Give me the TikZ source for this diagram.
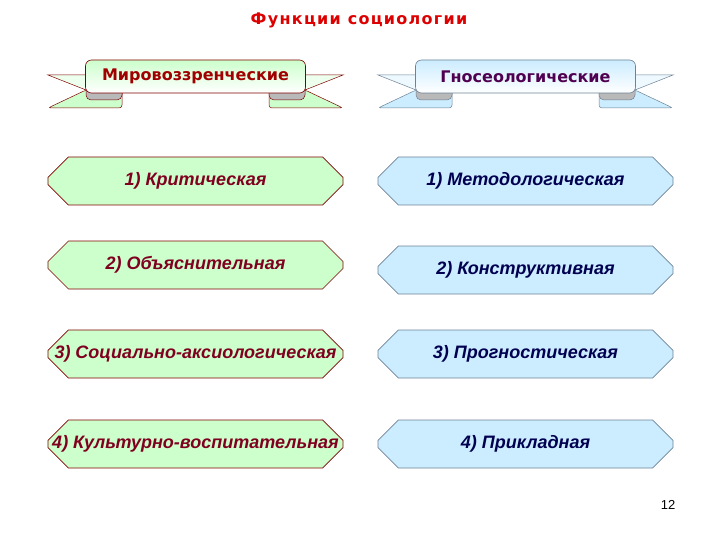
\documentclass[tikz,border=0pt]{standalone}
\usepackage{fontspec}
\setmainfont{Liberation Sans}
\newfontfamily\widefont{DejaVu Sans}
\usepackage{xcolor}
\usetikzlibrary{shapes.misc,positioning}

\definecolor{greenfill}{RGB}{204,255,204}
\definecolor{greenline}{RGB}{128,0,0}
\definecolor{greentext}{RGB}{128,0,32}
\definecolor{bluefill}{RGB}{204,236,255}
\definecolor{blueline}{RGB}{110,130,150}
\definecolor{bluetext}{RGB}{0,0,80}
\definecolor{titlered}{RGB}{220,0,0}
\definecolor{bannerred}{RGB}{160,0,0}
\definecolor{bannerpurple}{RGB}{80,0,80}

\begin{document}
\begin{tikzpicture}[
    x=1pt,
    y=-1pt,
    func/.style={
        chamfered rectangle,
        chamfered rectangle xsep=12pt,
        chamfered rectangle ysep=12pt,
        minimum width=295pt,
        minimum height=48pt,
        inner sep=0pt,
        line width=0.6pt,
        font=\fontsize{18}{21}\selectfont\bfseries\itshape,
        execute at begin node={\hbox to 270pt\bgroup\hss},
        execute at end node={\hss\egroup}
    },
    funcleft/.style={func, draw=greenline, fill=greenfill, text=greentext},
    funcright/.style={func, draw=blueline, fill=bluefill, text=bluetext},
    banner/.style={
        draw=#1,
        rounded corners=6pt,
        line width=0.6pt,
        minimum width=220pt,
        minimum height=33pt,
        inner sep=0pt,
        font=\widefont\fontsize{16}{19}\selectfont\bfseries
    }
]
\useasboundingbox (0,0) rectangle (720,540);

% title
\node[text=titlered, font=\widefont\fontsize{16}{19}\selectfont\bfseries\addfontfeature{LetterSpace=8}]
    (title) at (359,20) {Функции социологии};

% ribbon tails and folds behind the two banners
\foreach \sx/\fc/\lc in {0/greenfill/greenline, 330/bluefill/blueline}{
\begin{scope}[xshift=\sx, line width=0.5pt]
    % left tail
    \draw[draw=\lc, fill=\fc!35] (48,75) -- (86,75) -- (86,90) -- cycle;
    \draw[draw=\lc, fill=\fc, rounded corners=3pt] (48,108) -- (86,90) -- (122,90) -- (122,108) -- cycle;
    \draw[draw=\lc, fill=gray!55, rounded corners=5pt] (86,86) -- (122,86) -- (122,100) -- (86,100) -- cycle;
    % right tail
    \draw[draw=\lc, fill=\fc!35] (343,75) -- (305,75) -- (305,90) -- cycle;
    \draw[draw=\lc, fill=\fc, rounded corners=3pt] (343,108) -- (305,90) -- (269,90) -- (269,108) -- cycle;
    \draw[draw=\lc, fill=gray!55, rounded corners=5pt] (305,86) -- (269,86) -- (269,100) -- (305,100) -- cycle;
\end{scope}
}

% banners
\node[banner=greenline, top color=greenfill, bottom color=white, text=bannerred]
    (worldview) at (195.5,76.5) {Мировоззренческие};
\node[banner=blueline, top color=bluefill, bottom color=white, text=bannerpurple]
    (gnoseo) at (525.5,76.5) {Гносеологические};

% left column
\node[funcleft] (critical) at (195.5,181) {1) Критическая};
\node[funcleft] (explain) at (195.5,265) {2) Объяснительная};
\node[funcleft] (axiol) at (195.5,354) {3) Социально-аксиологическая};
\node[funcleft] (culture) at (195.5,444) {4) Культурно-воспитательная};

% right column
\node[funcright] (method) at (525.5,181) {1) Методологическая};
\node[funcright] (construct) at (525.5,270) {2) Конструктивная};
\node[funcright] (prognos) at (525.5,354) {3) Прогностическая};
\node[funcright] (applied) at (525.5,444) {4) Прикладная};

% page number
\node[font=\fontsize{13}{15}\selectfont] (page) at (668,505) {12};

\end{tikzpicture}
\end{document}
